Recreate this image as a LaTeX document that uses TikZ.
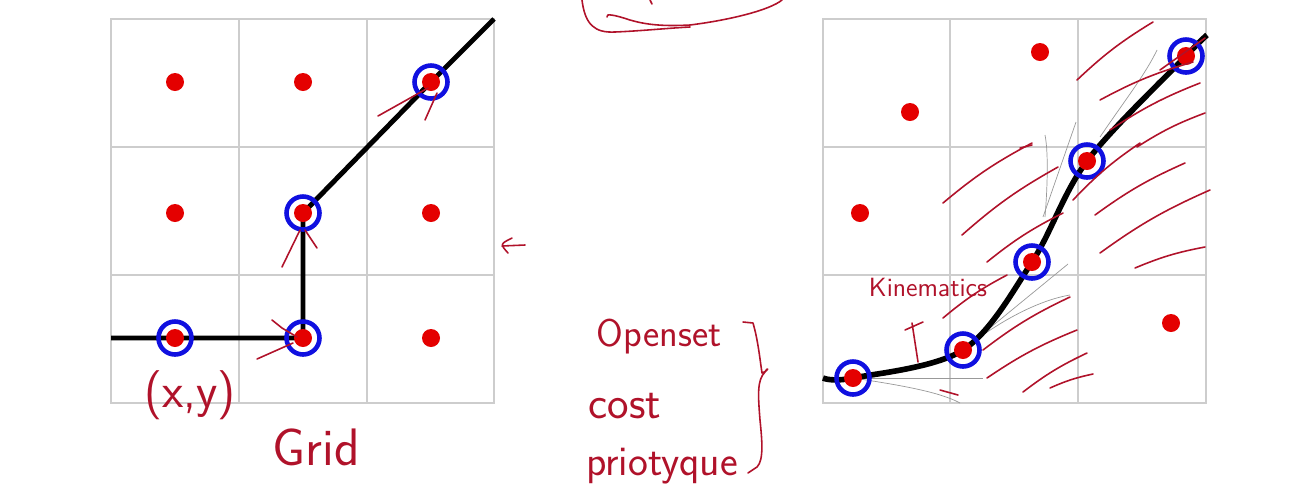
\documentclass[tikz,border=0pt]{standalone}
\usepackage{fontspec}
\usetikzlibrary{positioning}
\definecolor{rojopunto}{RGB}{228,0,0}
\definecolor{azulanillo}{RGB}{16,16,224}
\definecolor{tinta}{RGB}{176,18,42}
\definecolor{gris}{RGB}{205,205,205}

\begin{document}
\begin{tikzpicture}[
  x=0.2mm, y=-0.2mm,
  rejilla/.style={draw=gris, line width=0.6pt},
  punto/.style={circle, fill=rojopunto, inner sep=0pt, minimum size=3.6mm},
  anillo/.style={circle, draw=azulanillo, line width=2.6pt, inner sep=0pt,
    minimum size=6.6mm},
  ruta/.style={line width=2.8pt, line join=round},
  trazo/.style={draw=tinta, line width=0.9pt, line cap=round, line join=round},
  abanico/.style={draw=gray!80, line width=0.4pt},
  mano/.style={text=tinta, inner sep=0pt}]
\useasboundingbox (0,0) rectangle (1298,498);
% Rejilla izquierda
\draw[rejilla] (111,19) rectangle (494,403);
\draw[rejilla] (239,19) -- (239,403);
\draw[rejilla] (367,19) -- (367,403);
\draw[rejilla] (111,147) -- (494,147);
\draw[rejilla] (111,275) -- (494,275);
% Rejilla derecha
\draw[rejilla] (823,19) rectangle (1206,403);
\draw[rejilla] (950,19) -- (950,403);
\draw[rejilla] (1078,19) -- (1078,403);
\draw[rejilla] (823,147) -- (1206,147);
\draw[rejilla] (823,275) -- (1206,275);
% Puntos del camino en la rejilla
\coordinate (lin) at (111,338);
\coordinate (l31) at (175,338);
\coordinate (l32) at (303,338);
\coordinate (l22) at (303,213);
\coordinate (l13) at (431,82);
\coordinate (lout) at (494,19);
\draw[ruta] (lin) -- (l31) -- (l32) -- (l22) -- (l13) -- (lout);
% Puntos del camino cinematico
\coordinate (kin) at (823,378);
\coordinate (k1) at (853,378);
\coordinate (k2) at (963,350);
\coordinate (k3) at (1032,262);
\coordinate (k4) at (1087,161);
\coordinate (k5) at (1186,56);
\coordinate (kout) at (1207,35);
% Curvas de prueba (abanico)
\draw[abanico] (k1) -- (983,378);
\draw[abanico] (k1) .. controls (900,385) and (940,392) .. (960,403);
\draw[abanico] (k2) -- (1068,264);
\draw[abanico] (k2) .. controls (1000,320) and (1040,300) .. (1070,295);
\draw[abanico] (1045,217) .. controls (1048,180) and (1048,150) .. (1045,135);
\draw[abanico] (1043,217) -- (1076,122);
\draw[abanico] (1100,137) .. controls (1125,100) and (1145,75) .. (1157,50);
\draw[trazo] (858,378) .. controls (900,373) and (935,366) .. (960,352);
\draw[ruta, line width=3.2pt] plot[smooth, tension=0.55]
  coordinates {(kin) (k1) (k2) (k3) (k4) (k5) (kout)};
% Anillos azules
\node[anillo] (a31) at (l31) {};
\node[anillo] (a32) at (l32) {};
\node[anillo] (a22) at (l22) {};
\node[anillo] (a13) at (l13) {};
\node[anillo] (b1) at (k1) {};
\node[anillo] (b2) at (k2) {};
\node[anillo] (b3) at (k3) {};
\node[anillo] (b4) at (k4) {};
\node[anillo] (b5) at (k5) {};
% Puntos rojos, rejilla izquierda
\node[punto] (p11) at (175,82) {};
\node[punto] (p12) at (303,82) {};
\node[punto] (p13) at (l13) {};
\node[punto] (p21) at (175,213) {};
\node[punto] (p22) at (l22) {};
\node[punto] (p23) at (431,213) {};
\node[punto] (p31) at (l31) {};
\node[punto] (p32) at (l32) {};
\node[punto] (p33) at (431,338) {};
% Puntos rojos, rejilla derecha
\node[punto] (q1) at (1040,52) {};
\node[punto] (q2) at (910,112) {};
\node[punto] (q3) at (860,213) {};
\node[punto] (q4) at (1171,323) {};
\node[punto] (q5) at (k1) {};
\node[punto] (q6) at (k2) {};
\node[punto] (q7) at (k3) {};
\node[punto] (q8) at (k4) {};
\node[punto] (q9) at (k5) {};
% Flechitas a mano, rejilla izquierda
\draw[trazo] (378,116) -- (428,88) (425,120) -- (437,93);
\draw[trazo] (282,267) -- (300,230) (317,248) -- (305,230);
\draw[trazo] (257,359) -- (293,343) (272,320) -- (282,328) -- (297,337);
\draw[trazo] (512,238) .. controls (500,244) .. (508,253) (502,246) -- (525,245);
% Rayado a mano, rejilla derecha
\draw[trazo] (1077,80) to[bend left=6] (1153,22)
  (1100,100) to[bend left=6] (1193,62)
  (1110,130) to[bend left=6] (1200,83)
  (1137,147) to[bend left=6] (1205,113)
  (1073,200) to[bend left=6] (1140,143)
  (1095,215) to[bend left=6] (1185,163)
  (1100,253) to[bend left=6] (1210,190)
  (1135,268) to[bend left=6] (1205,247)
  (1020,148) -- (1032,145);
\draw[trazo] (943,203) to[bend left=6] (1032,143)
  (962,235) to[bend left=6] (1058,167)
  (987,262) to[bend left=6] (1063,213)
  (943,318) to[bend left=6] (1007,275)
  (983,350) to[bend left=6] (1070,297)
  (987,378) to[bend left=6] (1077,330)
  (1023,392) to[bend left=6] (1087,353)
  (1050,388) to[bend left=6] (1093,374)
  (940,390) -- (958,395)
  (1160,70) -- (1205,38);
\draw[trazo] (918,362) -- (912,323) (905,330) -- (923,322);
% Notas del centro
\draw[trazo] (582,0) .. controls (585,25) and (595,33) .. (615,32)
  .. controls (640,31) and (670,28) .. (690,27);
\draw[trazo] (607,17) .. controls (605,13) and (615,15) .. (630,20)
  .. controls (650,26) and (670,26) .. (690,25)
  .. controls (730,20) and (770,10) .. (782,0);
\draw[trazo] (650,0) -- (652,4);
\draw[trazo] (743,322) -- (753,323) .. controls (758,340) and (760,360) .. (762,373)
  .. controls (770,370) and (768,366) .. (765,372)
  .. controls (757,380) and (758,395) .. (760,420)
  .. controls (762,440) and (764,460) .. (757,467) -- (748,473);
% Textos
\node[mano, font=\sffamily\fontsize{28}{28}\selectfont] (xy) at (190,395) {(x,y)};
\node[mano, font=\sffamily\fontsize{30}{30}\selectfont] (grid) at (316,447) {Grid};
\node[mano, font=\sffamily\fontsize{22}{22}\selectfont] (open) at (659,337) {Openset};
\node[mano, font=\sffamily\fontsize{26}{26}\selectfont] (cost) at (625,406) {cost};
\node[mano, font=\sffamily\fontsize{24}{24}\selectfont] (prio) at (662,466) {priotyque};
\node[mano, font=\sffamily\fontsize{15}{15}\selectfont] (kin) at (928,287) {Kinematics};
\end{tikzpicture}
\end{document}
